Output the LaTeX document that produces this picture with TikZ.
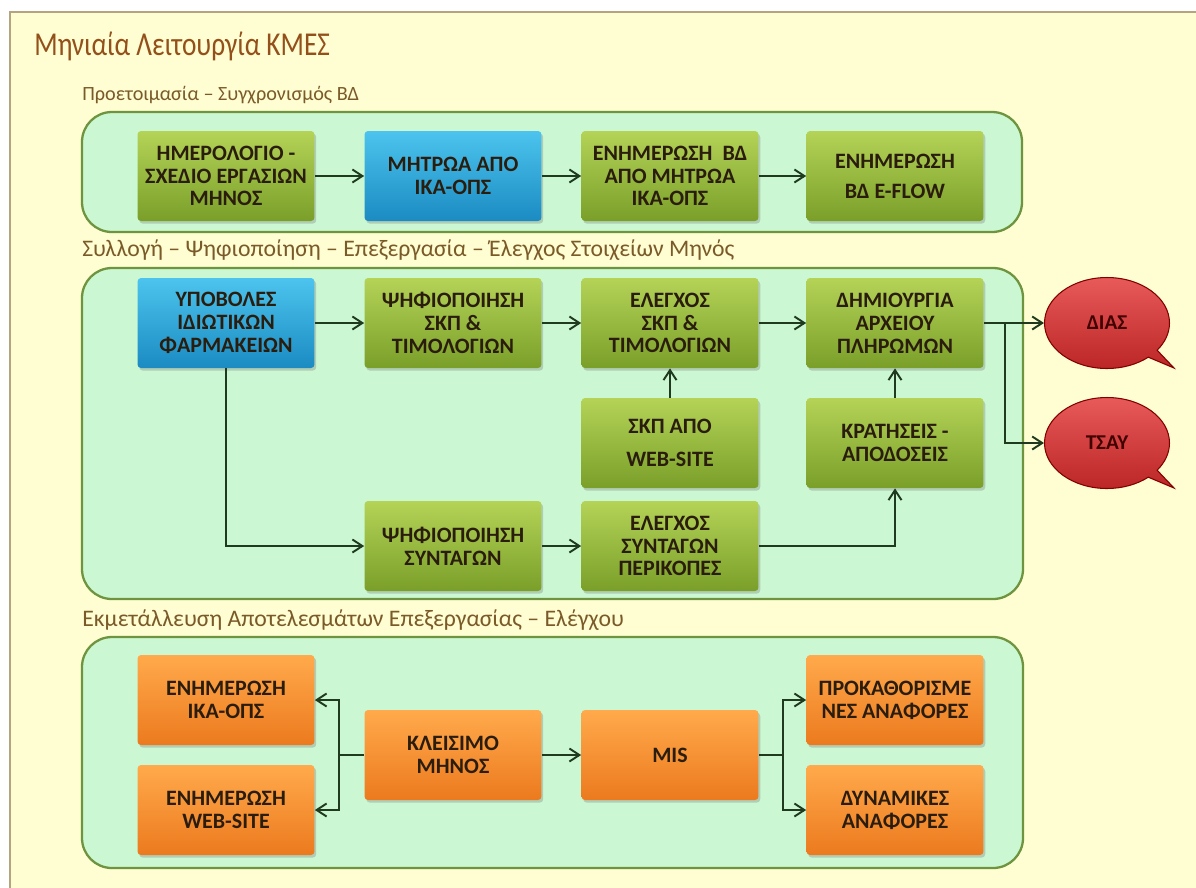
\documentclass[tikz,border=0pt]{standalone}
\usepackage{fontspec}
\setmainfont{Carlito}
\newfontfamily\titlefont[FakeStretch=0.82]{Carlito}
\usetikzlibrary{arrows.meta,shapes.callouts,shadows}
\definecolor{framebg}{HTML}{FFFDD2}
\definecolor{frameline}{HTML}{B4A482}
\definecolor{panelbg}{HTML}{CBF8D2}
\definecolor{panelline}{HTML}{6E9440}
\definecolor{titlecol}{HTML}{93501A}
\definecolor{subcol}{HTML}{7A5A28}
\definecolor{boxtext}{HTML}{2B1D0E}
\definecolor{arrcol}{HTML}{1F3A1F}
\definecolor{greentop}{HTML}{B4D357}
\definecolor{greenbot}{HTML}{7A9F29}
\definecolor{bluetop}{HTML}{4CC4EE}
\definecolor{bluebot}{HTML}{1B8BC2}
\definecolor{orangetop}{HTML}{FFAA4C}
\definecolor{orangebot}{HTML}{EC7A1E}
\definecolor{redtop}{HTML}{E85A5A}
\definecolor{redbot}{HTML}{BC2626}

\begin{document}
\begin{tikzpicture}[x=0.02cm,y=-0.02cm,
  box/.style={rounded corners=2pt,align=center,text=boxtext,
    font=\fontsize{12.5}{13}\selectfont\bfseries,inner sep=2pt,
    minimum width=3.54cm,minimum height=1.8cm,
    drop shadow={shadow xshift=1pt,shadow yshift=-1.5pt,opacity=0.35}},
  gbox/.style={box,top color=greentop,bottom color=greenbot},
  bbox/.style={box,top color=bluetop,bottom color=bluebot},
  obox/.style={box,top color=orangetop,bottom color=orangebot},
  panel/.style={draw=panelline,line width=1.3pt,fill=panelbg,rounded corners=0.6cm},
  sub/.style={anchor=west,inner sep=0pt,text=subcol},
  oval/.style={ellipse callout,draw=red!50!black,line width=0.6pt,
    top color=redtop,bottom color=redbot,callout pointer arc=12,
    minimum width=2.5cm,minimum height=1.82cm,
    text=red!25!black,font=\fontsize{12}{13}\selectfont\bfseries},
  arr/.style={-{Straight Barb[length=2mm,width=2.6mm]},line width=1.1pt,draw=arrcol}]
\useasboundingbox (0,0) rectangle (1196,887);
\clip (0,0) rectangle (1196,887);
\draw[draw=frameline,line width=1.2pt,fill=framebg] (10,12) rectangle (1230,920);

\node[anchor=west,inner sep=0pt,text=titlecol,font=\titlefont\fontsize{19}{22}\selectfont] (title) at (34,46) {Μηνιαία Λειτουργία ΚΜΕΣ};

\node[sub,font=\fontsize{11.5}{14}\selectfont] (sub1) at (82,95) {Προετοιμασία – Συγχρονισμός ΒΔ};
\draw[panel] (82,112) rectangle (1022,232);
\node[gbox] (cal) at (226,176) {ΗΜΕΡΟΛΟΓΙΟ -\\ΣΧΕΔΙΟ ΕΡΓΑΣΙΩΝ\\ΜΗΝΟΣ};
\node[bbox] (mtr) at (453,176) {ΜΗΤΡΩΑ ΑΠΟ\\ΙΚΑ-ΟΠΣ};
\node[gbox] (upd) at (670,176) {ΕΝΗΜΕΡΩΣΗ\ \ ΒΔ\\ΑΠΟ ΜΗΤΡΩΑ\\ΙΚΑ-ΟΠΣ};
\node[gbox] (efl) at (895,176) {ΕΝΗΜΕΡΩΣΗ\\[4pt]ΒΔ E-FLOW};
\draw[arr] (cal) -- (mtr);
\draw[arr] (mtr) -- (upd);
\draw[arr] (upd) -- (efl);

\node[sub,font=\fontsize{13.5}{15}\selectfont] (sub2) at (82,250) {Συλλογή – Ψηφιοποίηση – Επεξεργασία – Έλεγχος Στοιχείων Μηνός};
\draw[panel] (82,268) rectangle (1023,599);
\node[bbox] (ypo) at (226,323) {ΥΠΟΒΟΛΕΣ\\ΙΔΙΩΤΙΚΩΝ\\ΦΑΡΜΑΚΕΙΩΝ};
\node[gbox] (psk) at (453,323) {ΨΗΦΙΟΠΟΙΗΣΗ\\ΣΚΠ \&\\ΤΙΜΟΛΟΓΙΩΝ};
\node[gbox] (esk) at (670,323) {ΕΛΕΓΧΟΣ\\ΣΚΠ \&\\ΤΙΜΟΛΟΓΙΩΝ};
\node[gbox] (dim) at (895,323) {ΔΗΜΙΟΥΡΓΙΑ\\ΑΡΧΕΙΟΥ\\ΠΛΗΡΩΜΩΝ};
\node[gbox] (skw) at (670,443) {ΣΚΠ ΑΠΟ\\[6pt]WEB-SITE};
\node[gbox] (kra) at (895,443) {ΚΡΑΤΗΣΕΙΣ -\\ΑΠΟΔΟΣΕΙΣ};
\node[gbox] (psy) at (453,546) {ΨΗΦΙΟΠΟΙΗΣΗ\\ΣΥΝΤΑΓΩΝ};
\node[gbox] (esy) at (670,546) {ΕΛΕΓΧΟΣ\\ΣΥΝΤΑΓΩΝ\\ΠΕΡΙΚΟΠΕΣ};
\node[oval,callout absolute pointer={(1174,368)}] (dias) at (1107,323) {ΔΙΑΣ};
\node[oval,callout absolute pointer={(1174,488)}] (tsay) at (1107,443) {ΤΣΑΥ};
\coordinate (split) at (1005,323);
\draw[arr] (ypo) -- (psk);
\draw[arr] (psk) -- (esk);
\draw[arr] (esk) -- (dim);
\draw[arr] (skw) -- (esk);
\draw[arr] (kra) -- (dim);
\draw[arr] (ypo.south) |- (psy);
\draw[arr] (psy) -- (esy);
\draw[arr] (esy.east) -| (kra.south);
\draw[arr] (dim) -- (dias);
\draw[arr] (split) |- (tsay);

\node[sub,font=\fontsize{13.5}{15}\selectfont] (sub3) at (82,620) {Εκμετάλλευση Αποτελεσμάτων Επεξεργασίας – Ελέγχου};
\draw[panel] (82,637) rectangle (1023,868);
\node[obox] (eika) at (226,700) {ΕΝΗΜΕΡΩΣΗ\\ΙΚΑ-ΟΠΣ};
\node[obox] (eweb) at (226,810) {ΕΝΗΜΕΡΩΣΗ\\WEB-SITE};
\node[obox] (kle) at (453,755) {ΚΛΕΙΣΙΜΟ\\ΜΗΝΟΣ};
\node[obox] (mis) at (670,755) {MIS};
\node[obox] (prok) at (895,700) {ΠΡΟΚΑΘΟΡΙΣΜΕ\\ΝΕΣ ΑΝΑΦΟΡΕΣ};
\node[obox] (dyn) at (895,810) {ΔΥΝΑΜΙΚΕΣ\\ΑΝΑΦΟΡΕΣ};
\coordinate (kl) at (339,755);
\coordinate (mb) at (783,755);
\draw[line width=1.1pt,draw=arrcol] (kle) -- (kl);
\draw[arr] (kl) |- (eika);
\draw[arr] (kl) |- (eweb);
\draw[arr] (kle) -- (mis);
\draw[line width=1.1pt,draw=arrcol] (mis) -- (mb);
\draw[arr] (mb) |- (prok);
\draw[arr] (mb) |- (dyn);
\end{tikzpicture}
\end{document}
